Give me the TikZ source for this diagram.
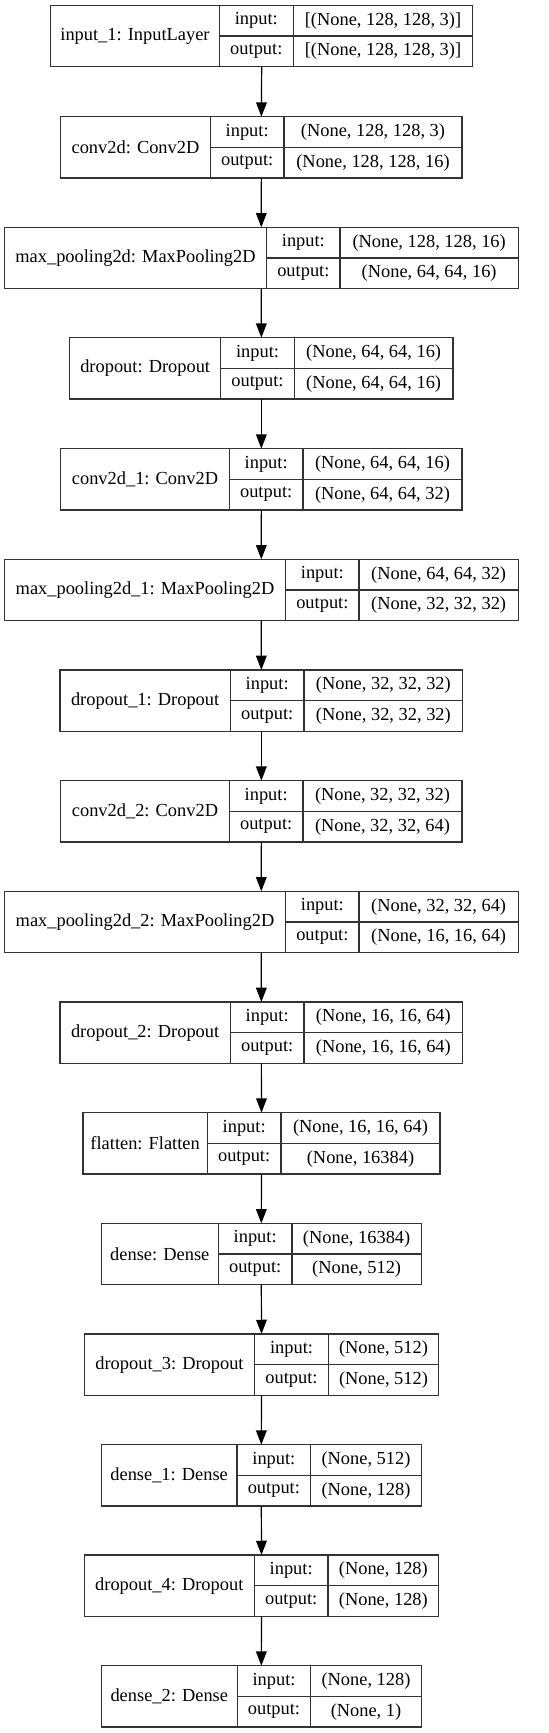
\documentclass[tikz,border=0pt]{standalone}
\usepackage{fontspec}
\setmainfont{Liberation Serif}
\usetikzlibrary{arrows.meta,fit}
\tikzset{
  boxst/.style={draw=black!80, line width=1pt, inner sep=0pt, outer sep=0pt},
  cellline/.style={draw=black!80, line width=1pt},
  txt/.style={inner sep=0pt, font=\fontsize{13.8pt}{16pt}\selectfont, text=black},
  arr/.style={draw=black, line width=0.9pt, -{Triangle[length=10.7pt,width=8pt]}, shorten >=0pt}
}
% #1 name, #2 top, #3 left, #4 div1, #5 div2, #6 right, #7 label, #8 input, #9 output
\newcommand\layerbox[9]{%
  \coordinate (#1-nw) at (#3,#2);
  \coordinate (#1-se) at (#6,#2+61.3);
  \node[boxst, fit=(#1-nw)(#1-se)] (#1) {};
  \draw[cellline] (#4,#2) -- (#4,#2+61.3);
  \draw[cellline] (#5,#2) -- (#5,#2+61.3);
  \draw[cellline] (#4,#2+30.65) -- (#6,#2+30.65);
  \node[txt] (#1-lab) at ({(#3+#4)/2},#2+30.65) {#7};
  \node[txt] (#1-ik) at ({(#4+#5)/2},#2+15.3) {input:};
  \node[txt] (#1-ok) at ({(#4+#5)/2},#2+46) {output:};
  \node[txt] (#1-iv) at ({(#5+#6)/2},#2+15.3) {#8};
  \node[txt] (#1-ov) at ({(#5+#6)/2},#2+46) {#9};
}
\begin{document}
\begin{tikzpicture}[x=0.75pt,y=-0.75pt]
\useasboundingbox (0,0) rectangle (549,1733);
\layerbox{l0}{5.3}{50.7}{219.3}{293.3}{472.7}{input\_1: InputLayer}{[(None, 128, 128, 3)]}{[(None, 128, 128, 3)]}
\layerbox{l1}{116.7}{60.7}{210.3}{284}{462}{conv2d: Conv2D}{(None, 128, 128, 3)}{(None, 128, 128, 16)}
\layerbox{l2}{227.3}{4.3}{266.7}{340}{518.3}{max\_pooling2d: MaxPooling2D}{(None, 128, 128, 16)}{(None, 64, 64, 16)}
\layerbox{l3}{337.7}{69.7}{220.7}{294.3}{453}{dropout: Dropout}{(None, 64, 64, 16)}{(None, 64, 64, 16)}
\layerbox{l4}{448.7}{60.7}{229.3}{303}{462}{conv2d\_1: Conv2D}{(None, 64, 64, 16)}{(None, 64, 64, 32)}
\layerbox{l5}{559.3}{4.3}{285.7}{359}{518.3}{max\_pooling2d\_1: MaxPooling2D}{(None, 64, 64, 32)}{(None, 32, 32, 32)}
\layerbox{l6}{670}{60}{230.3}{304}{462.7}{dropout\_1: Dropout}{(None, 32, 32, 32)}{(None, 32, 32, 32)}
\layerbox{l7}{780.7}{60.7}{229.3}{303}{462}{conv2d\_2: Conv2D}{(None, 32, 32, 32)}{(None, 32, 32, 64)}
\layerbox{l8}{891.3}{4.3}{285.7}{359}{518.3}{max\_pooling2d\_2: MaxPooling2D}{(None, 32, 32, 64)}{(None, 16, 16, 64)}
\layerbox{l9}{1002}{60}{230.3}{304}{462.7}{dropout\_2: Dropout}{(None, 16, 16, 64)}{(None, 16, 16, 64)}
\layerbox{l10}{1112.7}{83}{207.3}{281}{440}{flatten: Flatten}{(None, 16, 16, 64)}{(None, 16384)}
\layerbox{l11}{1223.3}{101.3}{218.3}{292}{421.3}{dense: Dense}{(None, 16384)}{(None, 512)}
\layerbox{l12}{1334}{84.3}{254.7}{328.3}{438.7}{dropout\_3: Dropout}{(None, 512)}{(None, 512)}
\layerbox{l13}{1444.7}{101.3}{237}{310.7}{421.3}{dense\_1: Dense}{(None, 512)}{(None, 128)}
\layerbox{l14}{1555}{84.3}{254.3}{328}{438.7}{dropout\_4: Dropout}{(None, 128)}{(None, 128)}
\layerbox{l15}{1665.7}{101.3}{237.3}{310.7}{421.3}{dense\_2: Dense}{(None, 128)}{(None, 1)}
\foreach \a/\b in {l0/l1,l1/l2,l2/l3,l3/l4,l4/l5,l5/l6,l6/l7,l7/l8,l8/l9,l9/l10,l10/l11,l11/l12,l12/l13,l13/l14,l14/l15}
  \draw[arr] (\a.south) -- (\b.north);
\end{tikzpicture}
\end{document}
